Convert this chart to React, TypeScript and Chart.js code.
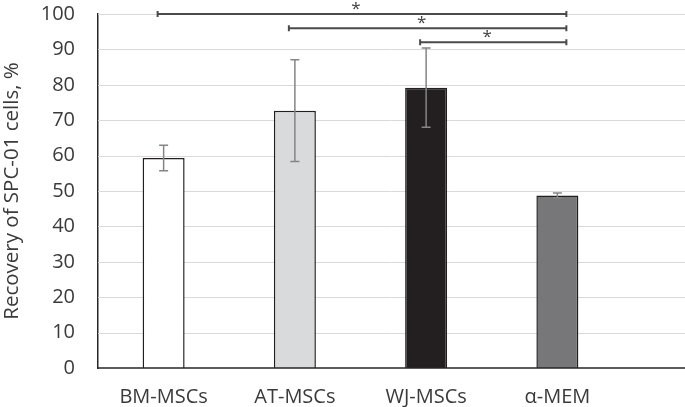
import React, { useEffect, useRef } from "react";
import { Chart, registerables } from "chart.js";

Chart.register(...registerables);

const categories = ["BM-MSCs", "AT-MSCs", "WJ-MSCs", "α-MEM"];
const recovery = [59.3, 72.7, 79.2, 48.7];
const errors = [3.6, 14.4, 11.2, 0.7];
const barColors = ["#ffffff", "#d9dadc", "#231f20", "#77777a"];
const bracketFrom = [0, 1, 2];
const bracketTo = [3, 3, 3];
const bracketLevel = [100, 96, 92];
const bracketLabel = ["*", "*", "*"];
const yMin = 0;
const yMax = 100;
const yStep = 10;

const FONT = "'Open Sans', sans-serif";

const overlayPlugin = {
  id: "overlay",
  beforeDatasetsDraw(chart: any) {
    const { ctx, scales, chartArea } = chart;
    const y = scales.y;
    ctx.save();
    ctx.strokeStyle = "#d9d9d9";
    ctx.lineWidth = 1;
    for (let v = yMin + yStep; v <= yMax; v += yStep) {
      const py = Math.round(y.getPixelForValue(v)) + 0.5;
      ctx.beginPath();
      ctx.moveTo(chartArea.left, py);
      ctx.lineTo(chart.width, py);
      ctx.stroke();
    }
    ctx.restore();
  },
  afterDatasetsDraw(chart: any) {
    const { ctx, scales, chartArea } = chart;
    const x = scales.x;
    const y = scales.y;
    ctx.save();
    // baseline
    ctx.strokeStyle = "#262626";
    ctx.lineWidth = 1.5;
    const by = y.getPixelForValue(0);
    ctx.beginPath();
    ctx.moveTo(chartArea.left, by);
    ctx.lineTo(chart.width, by);
    ctx.stroke();
    // error bars
    ctx.strokeStyle = "#858585";
    ctx.lineWidth = 1.5;
    recovery.forEach((v, i) => {
      const px = x.getPixelForValue(i);
      const top = y.getPixelForValue(v + errors[i]);
      const bot = y.getPixelForValue(v - errors[i]);
      ctx.beginPath();
      ctx.moveTo(px, top);
      ctx.lineTo(px, bot);
      ctx.moveTo(px - 4.5, top);
      ctx.lineTo(px + 4.5, top);
      ctx.moveTo(px - 4.5, bot);
      ctx.lineTo(px + 4.5, bot);
      ctx.stroke();
    });
    // significance brackets
    ctx.strokeStyle = "#4a4a4a";
    ctx.fillStyle = "#404040";
    ctx.font = `17px ${FONT}`;
    ctx.textAlign = "center";
    ctx.textBaseline = "middle";
    bracketFrom.forEach((f, i) => {
      const x1 = x.getPixelForValue(f) - 6;
      const x2 = x.getPixelForValue(bracketTo[i]) + 9;
      const py = y.getPixelForValue(bracketLevel[i]);
      ctx.lineWidth = 2;
      ctx.beginPath();
      ctx.moveTo(x1, py);
      ctx.lineTo(x2, py);
      ctx.stroke();
      ctx.beginPath();
      ctx.moveTo(x1, py - 3);
      ctx.lineTo(x1, py + 3);
      ctx.moveTo(x2, py - 3);
      ctx.lineTo(x2, py + 3);
      ctx.stroke();
      ctx.fillText(bracketLabel[i], (x1 + x2) / 2 - 6, py - 5);
    });
    ctx.restore();
  },
};

export default function App() {
  const ref = useRef<HTMLCanvasElement>(null);
  useEffect(() => {
    if (!ref.current) return;
    const chart = new Chart(ref.current, {
      type: "bar",
      data: {
        labels: categories,
        datasets: [
          {
            data: recovery,
            backgroundColor: barColors,
            borderColor: "#231f20",
            borderWidth: 1.5,
            categoryPercentage: 1,
            barPercentage: 0.32,
          },
        ],
      },
      options: {
        responsive: false,
        animation: false,
        layout: { padding: { top: 14, right: 62, left: 0, bottom: 0 } },
        plugins: {
          legend: { display: false },
          tooltip: { enabled: false },
        },
        scales: {
          x: {
            grid: { display: false, drawTicks: false },
            border: { display: false },
            ticks: {
              color: "#3a3a3a",
              font: { family: FONT, size: 20 },
              padding: 17,
            },
            afterFit(scale: any) {
              scale.height = 39;
              scale.paddingLeft = 0;
              scale.paddingRight = 0;
            },
          },
          y: {
            min: yMin,
            max: yMax,
            grid: { display: false, drawTicks: false },
            border: { display: true, color: "#262626", width: 1.5 },
            ticks: {
              stepSize: yStep,
              color: "#3a3a3a",
              font: { family: FONT, size: 20 },
              padding: 23,
            },
            title: {
              display: true,
              text: "Recovery of SPC-01 cells, %",
              color: "#3a3a3a",
              font: { family: FONT, size: 20.5 },
              padding: { top: 0, bottom: 0 },
            },
            afterFit(scale: any) {
              scale.width = 98;
              scale.paddingTop = 0;
              scale.paddingBottom = 0;
            },
          },
        },
      },
      plugins: [overlayPlugin],
    });
    return () => chart.destroy();
  }, []);
  return (
    <div style={{ position: "fixed", left: 0, top: 0, width: 685, height: 407, background: "#fff" }}>
      <canvas ref={ref} width={685} height={407} />
    </div>
  );
}
